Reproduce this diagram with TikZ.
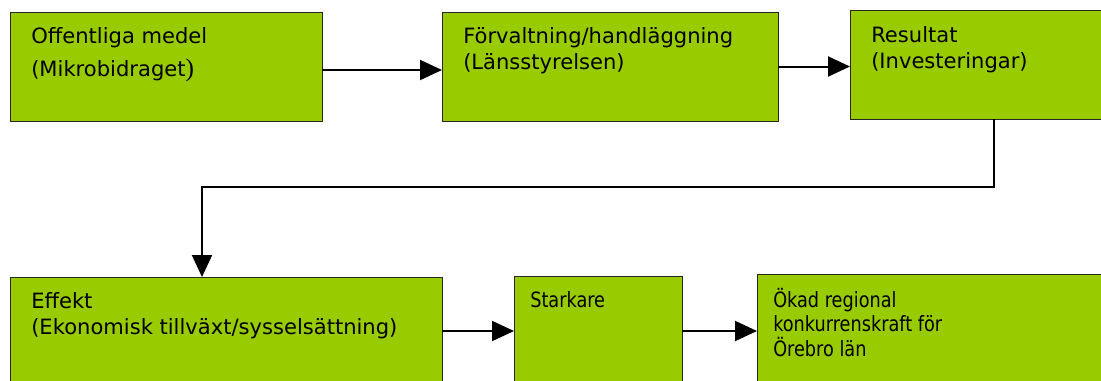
\documentclass[tikz,border=0pt]{standalone}
\usepackage{fontspec}
\setmainfont{DejaVu Sans}
\newfontfamily\narrowfont{DejaVu Sans}[FakeStretch=0.84]
\newfontfamily\parenfont{Liberation Serif}
\usetikzlibrary{arrows.meta}
\definecolor{boxgreen}{HTML}{99CC00}
\newcommand\tstrut{\rule{0pt}{14.4pt}}
\begin{document}
\begin{tikzpicture}[x=0.75pt,y=-0.75pt,
 box/.style={draw=black!85, line width=0.75pt, fill=boxgreen, inner sep=0pt, outer sep=0pt, anchor=north west},
 txt/.style={anchor=north west, inner sep=0pt, align=left, font=\fontsize{15.8pt}{19.8pt}\selectfont},
 narrowtxt/.style={anchor=north west, inner sep=0pt, align=left, font=\narrowfont\fontsize{15.8pt}{18.4pt}\selectfont},
 arr/.style={line width=1.5pt, -{Triangle[length=16.5pt,width=15pt]}}]
\useasboundingbox (0,0) rectangle (1101,380);
\clip (0,0) rectangle (1101,380);
% boxes
\node[box, minimum width=234pt, minimum height=81.75pt] (b1) at (10,12) {};
\node[box, minimum width=252pt, minimum height=81.75pt] (b2) at (442,12) {};
\node[box, minimum width=195pt, minimum height=81.75pt] (b3) at (850,10) {};
\node[box, minimum width=324pt, minimum height=86.25pt] (b4) at (10,277) {};
\node[box, minimum width=126pt, minimum height=87pt] (b5) at (514,276) {};
\node[box, minimum width=264.75pt, minimum height=88.5pt] (b6) at (757,274) {};
% texts
\node[txt] (t1) at (31,23.8) {\tstrut Offentliga medel\\[5pt](Mikrobidraget{\parenfont\fontsize{19pt}{19pt}\selectfont )}};
\node[txt] (t2) at (463,23.8) {\tstrut Förvaltning/handläggning\\(Länsstyrelsen)};
\node[txt] (t3) at (871,22.8) {\tstrut Resultat\\(Investeringar)};
\node[txt] (t4) at (31,288.8) {\tstrut Effekt\\(Ekonomisk tillväxt/sysselsättning)};
\node[narrowtxt] (t5) at (530,287.8) {\tstrut Starkare};
\node[narrowtxt] (t6) at (773,287.8) {\tstrut Ökad regional\\konkurrenskraft för\\Örebro län};
% connectors
\draw[arr] ([yshift=-2.625pt]b1.east) -- ([yshift=-2.625pt]b2.west);
\draw[arr] (b2.east) -- (b3.west |- b2.east);
\draw[arr] ([xshift=108pt]b3.south west) -- ++(0,68) -| ([xshift=144pt]b4.north west);
\coordinate (a45) at ([yshift=-40.5pt]b4.north east);
\coordinate (a56) at (a45 -| b5.east);
\draw[arr] (a45) -- (a45 -| b5.west);
\draw[arr] (a56) -- (a56 -| b6.west);
\end{tikzpicture}
\end{document}
